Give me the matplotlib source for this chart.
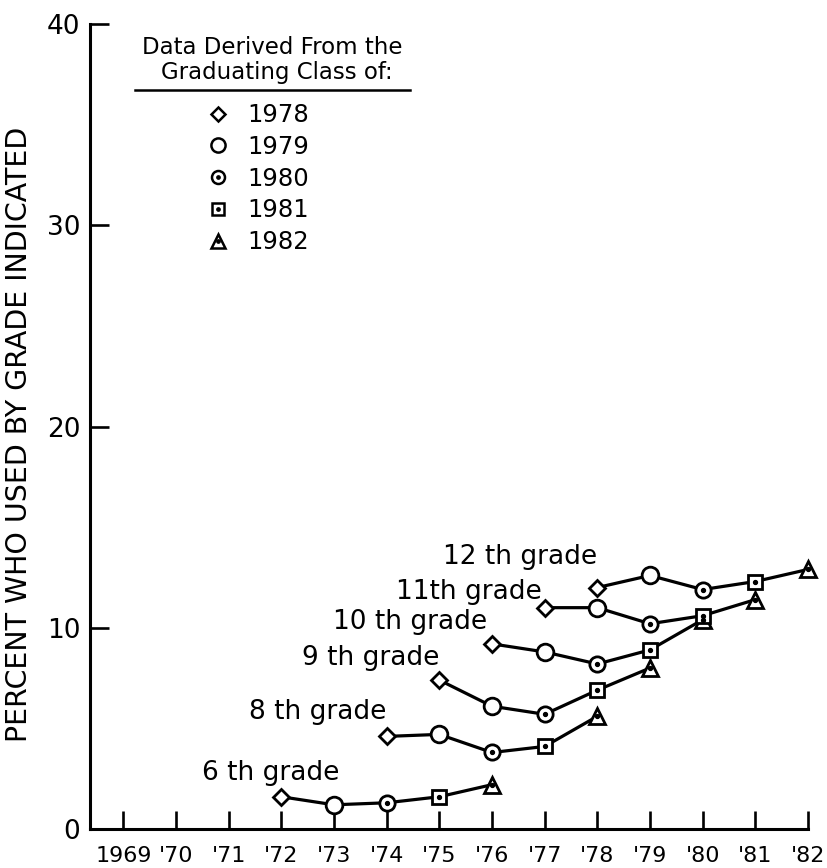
import matplotlib
matplotlib.use("Agg")
import matplotlib.pyplot as plt
from matplotlib.lines import Line2D

# survey years on the x axis
years = list(range(1969, 1983))
year_labels = ["1969", "'70", "'71", "'72", "'73", "'74", "'75", "'76",
               "'77", "'78", "'79", "'80", "'81", "'82"]

# graduating classes (marker per class)
classes = ["1978", "1979", "1980", "1981", "1982"]

# one line per grade; point i belongs to class classes[i]
grades = ["6 th grade", "8 th grade", "9 th grade", "10 th grade",
          "11th grade", "12 th grade"]
grade_years = [
    [1972, 1973, 1974, 1975, 1976],
    [1974, 1975, 1976, 1977, 1978],
    [1975, 1976, 1977, 1978, 1979],
    [1976, 1977, 1978, 1979, 1980],
    [1977, 1978, 1979, 1980, 1981],
    [1978, 1979, 1980, 1981, 1982],
]
grade_values = [
    [1.6, 1.2, 1.3, 1.6, 2.2],
    [4.6, 4.7, 3.8, 4.1, 5.6],
    [7.4, 6.1, 5.7, 6.9, 8.0],
    [9.2, 8.8, 8.2, 8.9, 10.4],
    [11.0, 11.0, 10.2, 10.6, 11.4],
    [12.0, 12.6, 11.9, 12.3, 12.9],
]

# label placement relative to first point of each grade (years, percent)
label_dx = [1.1, 0.0, 0.0, -0.1, -0.05, 0.0]
label_dy = [1.2, 1.2, 1.1, 1.1, 0.8, 1.5]

# marker look per class: shape, size, dotted centre
class_marker = ["D", "o", "o", "s", "^"]
class_size = [8, 12, 11, 10, 12]
class_dot = [False, False, True, True, True]

plt.rcParams['font.family'] = ['DejaVu Sans']
fig = plt.figure(figsize=(8.27, 8.68), dpi=100)
ax = fig.add_axes([0.109, 0.045, 0.868, 0.927])

lw = 2.3
for g, xs, ys, dx, dy in zip(grades, grade_years, grade_values, label_dx, label_dy):
    ax.plot(xs, ys, color='black', lw=lw, zorder=2, clip_on=False)
    for i, (x, y) in enumerate(zip(xs, ys)):
        ax.plot([x], [y], marker=class_marker[i], ms=class_size[i], mfc='white',
                mec='black', mew=2, ls='none', zorder=3, clip_on=False)
        if class_dot[i]:
            ax.plot([x], [y], marker='o', ms=2.8, color='black', ls='none',
                    zorder=4, clip_on=False)
    ax.text(xs[0] + dx, ys[0] + dy, g, ha='right', va='center', fontsize=19)

ax.set_xlim(1968.37, 1982)
ax.set_ylim(0, 40)
ax.set_xticks(years)
ax.set_xticklabels(year_labels)
ax.set_yticks([0, 10, 20, 30, 40])
ax.tick_params(axis='x', direction='in', length=13, width=1.9, labelsize=16, pad=12)
ax.tick_params(axis='y', direction='in', length=14, width=1.9, labelsize=19, pad=7)
for s in ['top', 'right']:
    ax.spines[s].set_visible(False)
for s in ['left', 'bottom']:
    ax.spines[s].set_linewidth(2.2)
ax.set_ylabel("PERCENT WHO USED BY GRADE INDICATED", fontsize=20.5)
ax.yaxis.set_label_coords(-0.08, 0.49)

# legend block
ax.text(0.253, 0.971, "Data Derived From the", transform=ax.transAxes,
        ha='center', va='center', fontsize=16.5)
ax.text(0.260, 0.940, "Graduating Class of:", transform=ax.transAxes,
        ha='center', va='center', fontsize=16.5)
ax.add_line(Line2D([0.063, 0.446], [0.918, 0.918], transform=ax.transAxes,
                   color='black', lw=1.8))
handles = []
for i in range(len(classes)):
    outer = Line2D([], [], marker=class_marker[i], ms=class_size[i] * 0.85,
                   mfc='white', mec='black', mew=1.8, ls='none')
    if class_dot[i]:
        dot = Line2D([], [], marker='o', ms=2.4, color='black', ls='none')
        handles.append((outer, dot))
    else:
        handles.append(outer)
ax.legend(handles, classes, loc='upper left', bbox_to_anchor=(0.158, 0.902),
          frameon=False, fontsize=17.5, handlelength=1.2, handletextpad=0.6,
          labelspacing=0.32, borderpad=0, borderaxespad=0)

fig.savefig("out.png", dpi=100)
